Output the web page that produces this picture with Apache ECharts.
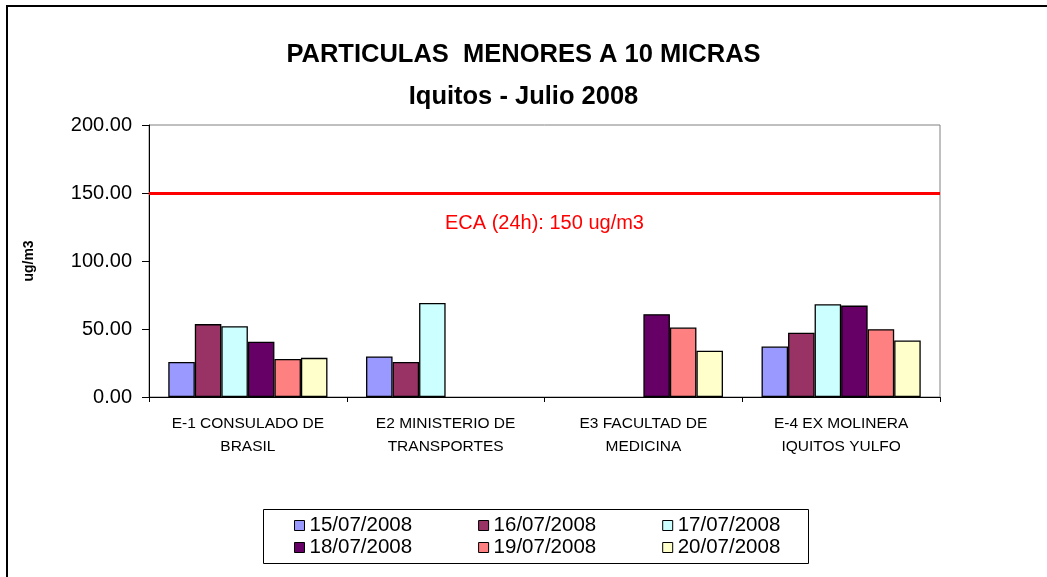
<!DOCTYPE html>
<html>
<head>
<meta charset="utf-8">
<script src="https://cdn.jsdelivr.net/npm/echarts@6/dist/echarts.min.js"></script>
<style>html,body{margin:0;padding:0;background:#fff}#c{width:1047px;height:577px}</style>
</head>
<body>
<div id="c"></div>
<script>
const categories = ['E-1 CONSULADO DE\nBRASIL', 'E2 MINISTERIO DE\nTRANSPORTES', 'E3 FACULTAD DE\nMEDICINA', 'E-4 EX MOLINERA\nIQUITOS YULFO'];
const seriesNames = ['15/07/2008', '16/07/2008', '17/07/2008', '18/07/2008', '19/07/2008', '20/07/2008'];
const d15 = [25.7, 29.8, null, 37.1];
const d16 = [53.6, 25.7, null, 47.2];
const d17 = [52.1, 69.2, null, 68.2];
const d18 = [40.6, null, 60.9, 67.2];
const d19 = [27.9, null, 51.1, 49.9];
const d20 = [28.8, null, 34.0, 41.5];
const yTicks = [0, 50, 100, 150, 200];
const ecaLimit = 150;
const ecaLabel = 'ECA (24h): 150 ug/m3';

const colors = ['#9999FF', '#993366', '#CCFFFF', '#660066', '#FF8080', '#FFFFCC'];
const values = [d15, d16, d17, d18, d19, d20];
const FONT = "'Liberation Sans', Arial, sans-serif";

const series = seriesNames.map((n, i) => {
  const s = {
    name: n, type: 'bar', data: values[i],
    barGap: '0%', barCategoryGap: '19.5%',
    itemStyle: { color: colors[i], borderColor: '#000', borderWidth: 1.3 }
  };
  if (i === 0) {
    s.markLine = {
      silent: true, symbol: ['none', 'none'],
      lineStyle: { color: '#FF0000', width: 3, type: 'solid' },
      label: { show: true, formatter: ecaLabel, position: 'middle', distance: 0, offset: [0, 40], color: '#FF0000', fontSize: 20, fontFamily: FONT },
      data: [{ yAxis: ecaLimit }]
    };
  }
  return s;
});

const legendCommon = {
  orient: 'horizontal', icon: 'rect', itemWidth: 10, itemHeight: 10, itemGap: 66,
  itemStyle: { borderColor: '#000', borderWidth: 1 },
  textStyle: { fontFamily: FONT, fontSize: 20.5, color: '#000' }
};

const chart = echarts.init(document.getElementById('c'));
chart.setOption({
  animation: false,
  backgroundColor: '#fff',
  color: colors,
  title: {
    text: 'PARTICULAS  MENORES A 10 MICRAS\nIquitos - Julio 2008',
    left: 'center', top: 29,
    textStyle: { fontFamily: FONT, fontSize: 25.5, fontWeight: 'bold', color: '#000', lineHeight: 42 }
  },
  grid: { left: 149, right: 107, top: 125, bottom: 180, show: true, borderColor: '#808080', borderWidth: 1 },
  xAxis: {
    type: 'category', data: categories,
    axisLine: { lineStyle: { color: '#000', width: 1 } },
    axisTick: { show: true, length: 5, lineStyle: { color: '#000' } },
    axisLabel: { fontFamily: FONT, fontSize: 15.5, color: '#000', margin: 15, lineHeight: 23, interval: 0 }
  },
  yAxis: {
    type: 'value', min: yTicks[0], max: yTicks[yTicks.length - 1], interval: 50,
    name: 'ug/m3', nameLocation: 'middle', nameGap: 113,
    nameTextStyle: { fontFamily: FONT, fontSize: 14, fontWeight: 'bold', color: '#000' },
    axisLine: { show: true, lineStyle: { color: '#000', width: 1 } },
    axisTick: { show: true, length: 7, lineStyle: { color: '#000' } },
    splitLine: { show: false },
    axisLabel: { fontFamily: FONT, fontSize: 20, color: '#000', margin: 17, formatter: v => v.toFixed(2) }
  },
  legend: [
    Object.assign({ data: seriesNames.slice(0, 3), left: 289, top: 510 }, legendCommon),
    Object.assign({ data: seriesNames.slice(3, 6), left: 289, top: 532 }, legendCommon)
  ],
  graphic: [
    { type: 'polyline', shape: { points: [[7, 577], [7, 6], [1047, 6]] }, style: { stroke: '#000', lineWidth: 2, fill: null } },
    { type: 'rect', shape: { x: 263.5, y: 509.5, width: 545, height: 54 }, style: { stroke: '#000', lineWidth: 1, fill: null }, z: -1 }
  ],
  series: series
});
</script>
</body>
</html>
